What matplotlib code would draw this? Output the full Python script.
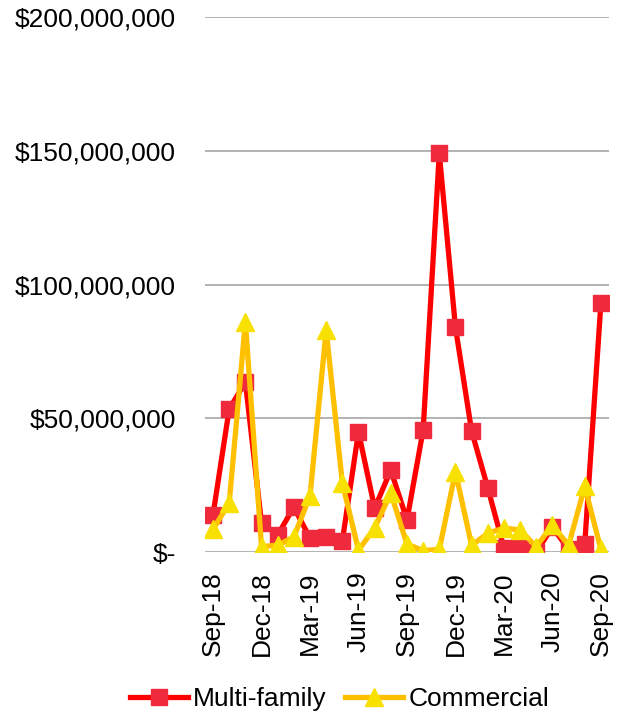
import matplotlib.pyplot as plt
from matplotlib.ticker import FuncFormatter

# monthly values, Sep-18 .. Sep-20
months = ['Sep-18', 'Oct-18', 'Nov-18', 'Dec-18', 'Jan-19', 'Feb-19', 'Mar-19',
          'Apr-19', 'May-19', 'Jun-19', 'Jul-19', 'Aug-19', 'Sep-19', 'Oct-19',
          'Nov-19', 'Dec-19', 'Jan-20', 'Feb-20', 'Mar-20', 'Apr-20', 'May-20',
          'Jun-20', 'Jul-20', 'Aug-20', 'Sep-20']
multi_family = [14.0e6, 53.5e6, 63.5e6, 10.8e6, 6.4e6, 16.8e6, 5.2e6, 5.6e6,
                4.1e6, 44.9e6, 16.4e6, 30.6e6, 12.0e6, 45.6e6, 149.0e6, 84.0e6,
                45.2e6, 24.0e6, 1.5e6, 2.6e6, 0.0, 9.3e6, 1.0e6, 3.0e6, 93.0e6]
commercial = [8.5e6, 18.3e6, 86.0e6, 2.0e6, 2.6e6, 5.6e6, 21.0e6, 83.0e6,
              25.8e6, 0.7e6, 9.0e6, 22.0e6, 3.0e6, 0.5e6, 1.0e6, 30.0e6,
              2.5e6, 7.0e6, 9.0e6, 8.2e6, 2.0e6, 10.0e6, 2.5e6, 24.5e6, 1.0e6]
yticks = [0, 50e6, 100e6, 150e6, 200e6]

plt.rcParams['font.family'] = ['Liberation Sans', 'DejaVu Sans']

fig = plt.figure(figsize=(6.23, 7.16), dpi=100)
ax = fig.add_axes([0.329, 0.229, 0.6485, 0.7473])

xs = list(range(len(months)))
ax.plot(xs, multi_family, color='#FF0000', lw=3.8, marker='s', ms=12,
        mfc='#EE2A3C', mec='#EE2A3C', label='Multi-family', zorder=3)
ax.plot(xs, commercial, color='#FFC000', lw=3.8, marker='^', ms=13,
        mfc='#F8E000', mec='#F8E000', label='Commercial', zorder=4)

ax.set_xlim(-0.5, len(months) - 0.5)
ax.set_ylim(0, 200e6)
ax.set_yticks(yticks)


def money(v, pos):
    if v == 0:
        return '$-'
    return '${:,.0f}'.format(v)


ax.yaxis.set_major_formatter(FuncFormatter(money))
ax.set_xticks(xs[::3])
ax.set_xticklabels(months[::3], rotation=90)
ax.tick_params(axis='both', length=0, labelsize=19)
ax.tick_params(axis='x', pad=14)
ax.tick_params(axis='y', pad=21)
ax.grid(axis='y', color='#A6A6A6', lw=1.2)
ax.set_axisbelow(True)
for s in ax.spines.values():
    s.set_visible(False)

fig.legend(loc='center', bbox_to_anchor=(0.545, 0.024), ncol=2, frameon=False,
           fontsize=19, handlelength=2.2, handletextpad=0.2, columnspacing=0.7)

fig.savefig('out.png', dpi=100)
